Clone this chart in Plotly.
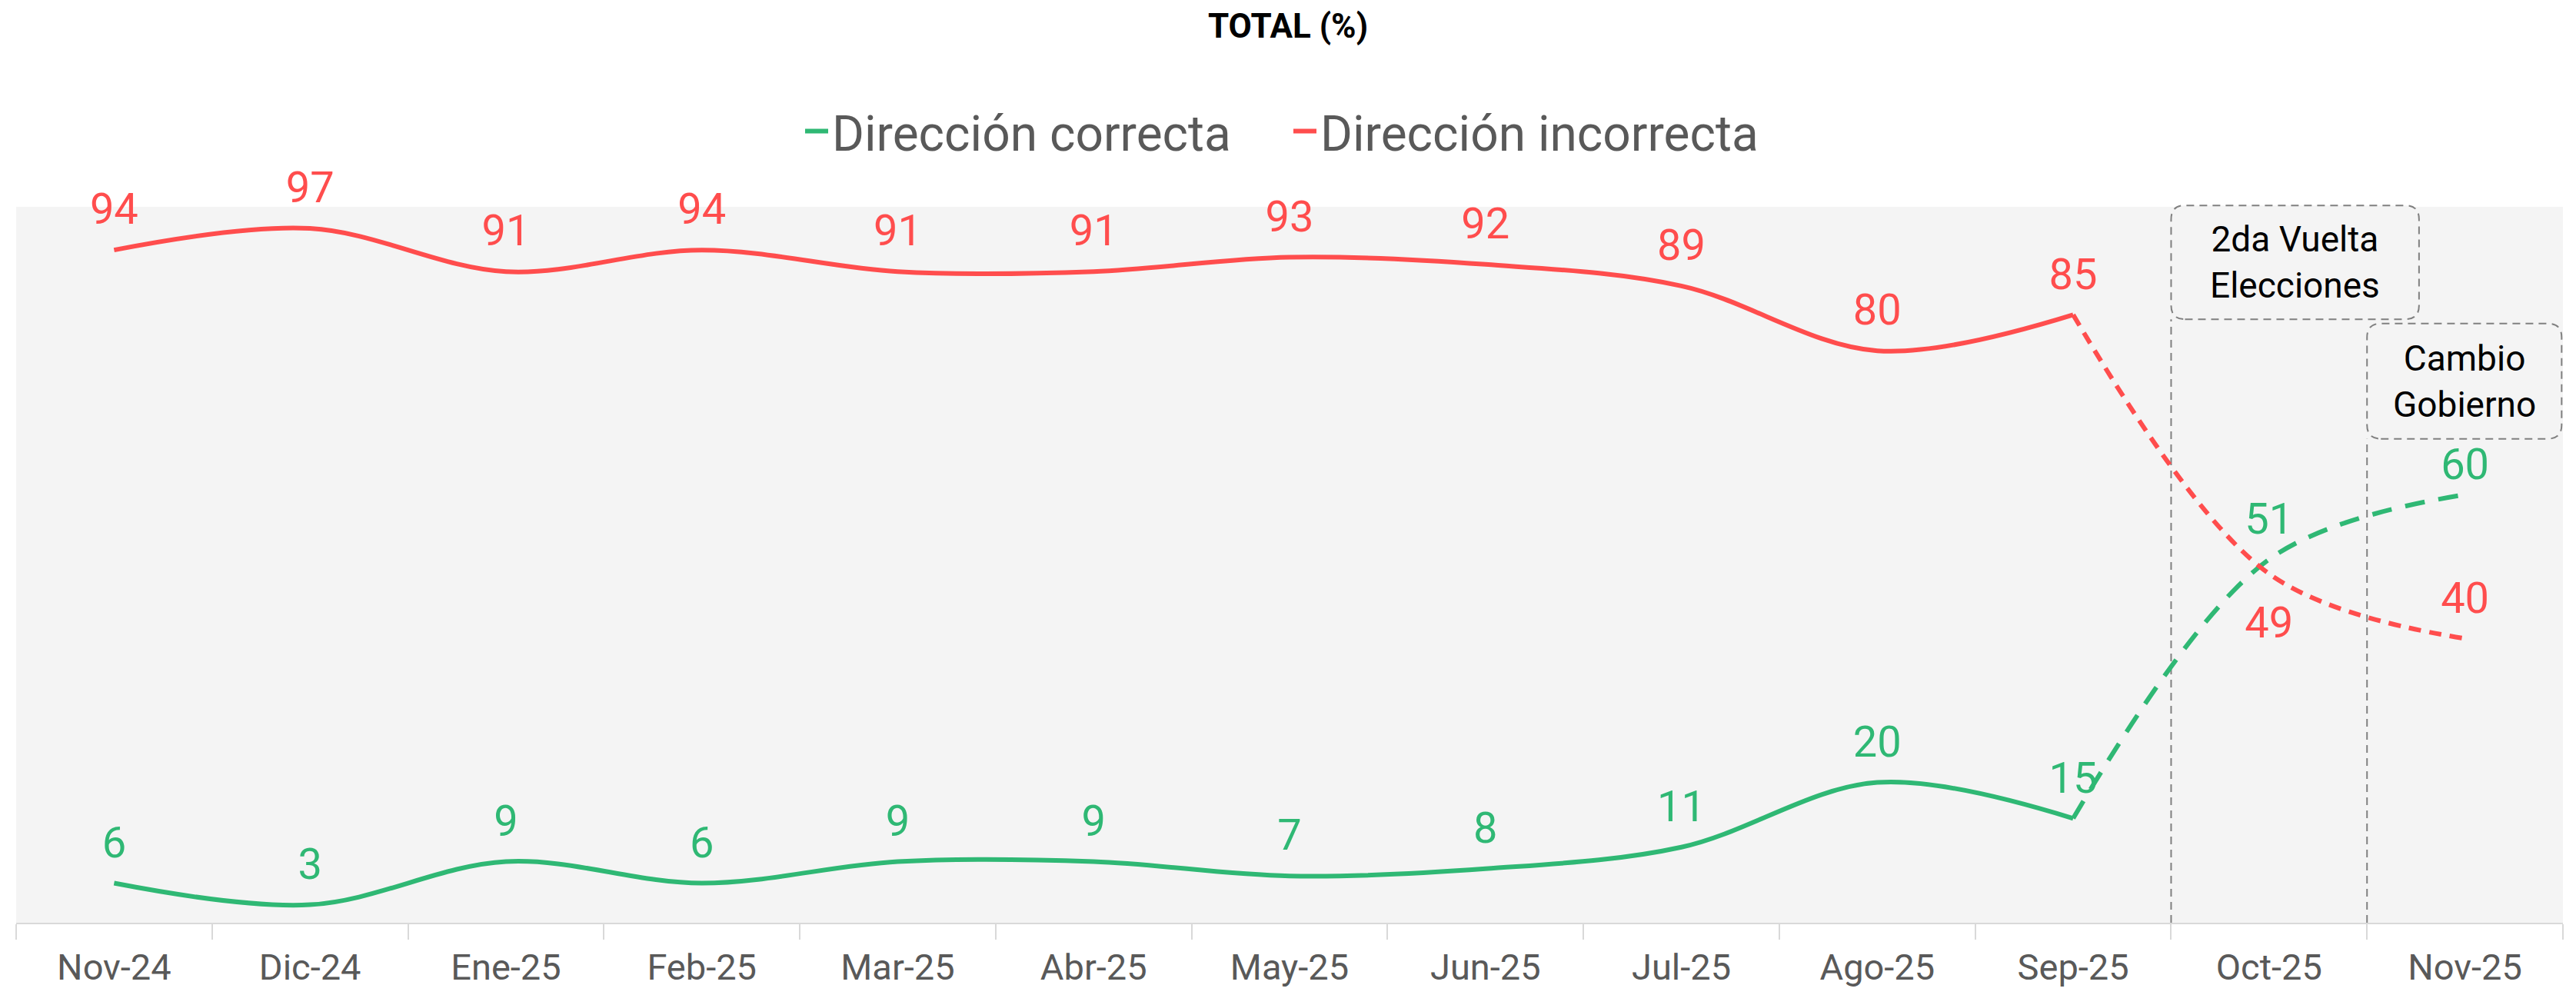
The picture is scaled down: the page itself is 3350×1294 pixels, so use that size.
import plotly.graph_objects as go

months = ['Nov-24', 'Dic-24', 'Ene-25', 'Feb-25', 'Mar-25', 'Abr-25', 'May-25',
          'Jun-25', 'Jul-25', 'Ago-25', 'Sep-25', 'Oct-25', 'Nov-25']
correcta = [6, 3, 9, 6, 9, 9, 7, 8, 11, 20, 15, 51, 60]
incorrecta = [94, 97, 91, 94, 91, 91, 93, 92, 89, 80, 85, 49, 40]
split = 10  # Sep-25, from here the lines go dashed

GREEN = '#2fb874'
RED = '#ff4d4d'
GREY_TXT = '#595959'
FONT = 'Roboto'

# page body has an 8px margin, so the figure is drawn 8px in from the corner
W, H = 3350 - 16, 1294 - 8
ML, MR, MT, MB = 21 - 8, 17 - 8, 269 - 8, 94
PW, PH = W - ML - MR, H - MT - MB

fig = go.Figure()

series = [
    ('Dirección correcta', correcta, GREEN, '26px,18px'),
    ('Dirección incorrecta', incorrecta, RED, '16px,11px'),
]
for name, vals, color, dash in series:
    fig.add_trace(go.Scatter(x=months[:split + 1], y=vals[:split + 1], mode='lines', name=name,
                             line=dict(color=color, width=6, shape='spline', smoothing=1),
                             hoverinfo='skip'))
    fig.add_trace(go.Scatter(x=months[split:], y=vals[split:], mode='lines', showlegend=False,
                             line=dict(color=color, width=6, dash=dash, shape='spline', smoothing=1),
                             hoverinfo='skip'))

# data labels (invisible markers push the text away from the line)
green_pos = ['top center'] * len(months)
green_pad = [30] * len(months)
green_pad[12] = 8
red_pos = ['top center'] * len(months)
red_pos[11] = 'bottom center'
red_pad = [30] * len(months)
red_pad[11] = 64

for vals, color, pos, pad in [(correcta, GREEN, green_pos, green_pad),
                              (incorrecta, RED, red_pos, red_pad)]:
    fig.add_trace(go.Scatter(x=months, y=vals, mode='markers+text', showlegend=False,
                             text=[str(v) for v in vals], textposition=pos,
                             textfont=dict(family=FONT, size=56, color=color),
                             marker=dict(size=pad, opacity=0), cliponaxis=False,
                             hoverinfo='skip'))


def rounded_box(x0, x1, y0, y1, r=18):
    rx, ry = r / PW, r / PH
    return (f'M {x0 + rx},{y0} L {x1 - rx},{y0} Q {x1},{y0} {x1},{y0 + ry} '
            f'L {x1},{y1 - ry} Q {x1},{y1} {x1 - rx},{y1} L {x0 + rx},{y1} '
            f'Q {x0},{y1} {x0},{y1 - ry} L {x0},{y0 + ry} Q {x0},{y0} {x0 + rx},{y0} Z')


n = len(months)
b1 = (split + 1) / n  # boundary Sep/Oct
b2 = (split + 2) / n  # boundary Oct/Nov
box_line = dict(color='#808080', width=2, dash='10px,7px')

events = [
    ('2da Vuelta<br>Elecciones', b1, 0.9435, 0.843, 1.002),
    ('Cambio<br>Gobierno', b2, 0.9995, 0.676, 0.837),
]
shapes = []
annotations = []
for label, x0, x1, y0, y1 in events:
    shapes.append(dict(type='line', xref='paper', yref='paper', x0=x0, x1=x0, y0=0, y1=y0,
                       line=box_line, layer='below'))
    shapes.append(dict(type='path', xref='paper', yref='paper', path=rounded_box(x0, x1, y0, y1),
                       line=box_line, fillcolor='#f4f4f4', layer='below'))
    annotations.append(dict(xref='paper', yref='paper', x=(x0 + x1) / 2, y=(y0 + y1) / 2,
                            xanchor='center', yanchor='middle',
                            text=label, showarrow=False, align='center',
                            font=dict(family=FONT, size=46, color='#000000')))

fig.update_layout(
    width=W, height=H,
    margin=dict(l=ML, r=MR, t=MT, b=MB, autoexpand=False),
    paper_bgcolor='white', plot_bgcolor='#f4f4f4',
    font=dict(family=FONT, color=GREY_TXT),
    title=dict(text='<b>TOTAL (%)</b>', x=0.5, xanchor='center', y=1 - 26 / H, yanchor='middle',
               font=dict(family=FONT, size=44, color='#000000'), automargin=False),
    legend=dict(orientation='h', x=0.5, xanchor='center', y=1 + (MT - 163) / PH, yanchor='middle',
                font=dict(family=FONT, size=64, color=GREY_TXT), itemwidth=30,
                entrywidth=590, entrywidthmode='pixels',
                bgcolor='rgba(0,0,0,0)'),
    xaxis=dict(type='category', categoryorder='array', categoryarray=months,
               range=[-0.5, n - 0.5], tickson='boundaries', ticks='outside', ticklen=20,
               tickwidth=2, tickcolor='#d9d9d9', showline=True, linecolor='#d9d9d9', linewidth=2,
               showgrid=False, zeroline=False, ticklabelstandoff=16, automargin=False,
               tickfont=dict(family=FONT, size=47, color=GREY_TXT)),
    yaxis=dict(visible=False, range=[0.5, 100], showgrid=False, zeroline=False),
    shapes=shapes, annotations=annotations,
    showlegend=True,
)

fig.write_html("out.html")
